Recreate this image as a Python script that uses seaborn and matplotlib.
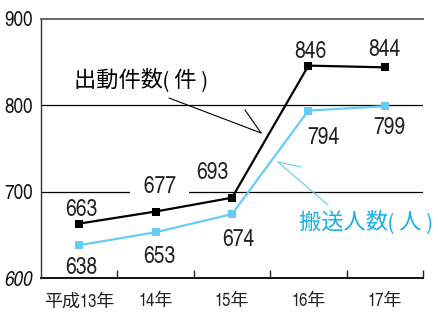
import matplotlib
matplotlib.use("Agg")
import matplotlib.pyplot as plt
from matplotlib.ticker import FixedLocator
import seaborn as sns

# data
years = ["平成13年", "14年", "15年", "16年", "17年"]
dispatches = [663, 677, 693, 846, 844]     # 出動件数(件)
transported = [638, 653, 674, 794, 799]    # 搬送人数(人)

# label offsets in pixels (dx, dy)
disp_offsets = [(2, 14), (4, 25), (-20, 25), (2, 14), (0, 17)]
trans_offsets = [(2, -23), (4, -25), (6, -26), (15, -27), (5, -22)]

BLACK = "#000000"
BLUE_LINE = "#66ccf5"
BLUE_TEXT = "#1aaee8"

sns.set_theme(style="white")
plt.rcParams["font.family"] = ["TeX Gyre Heros Cn", "Noto Sans CJK JP", "DejaVu Sans"]

fig = plt.figure(figsize=(4.39, 3.13), dpi=100)
ax = fig.add_axes([0.0934, 0.1118, 0.8702, 0.8275])

sns.lineplot(x=years, y=dispatches, sort=False, ax=ax, color=BLACK, lw=1.6,
             marker="s", markersize=5.5, markeredgewidth=0, zorder=3)
sns.lineplot(x=years, y=transported, sort=False, ax=ax, color=BLUE_LINE, lw=1.6,
             marker="s", markersize=5.5, markeredgewidth=0, zorder=3)

ax.set_xlim(-0.5, 4.5)
ax.set_ylim(600, 900)

# reference lines
for yv in (700, 800):
    ax.axhline(yv, color="black", lw=0.9, zorder=1)

# value labels
for i, (v, (dx, dy)) in enumerate(zip(dispatches, disp_offsets)):
    txt = f"  {v}  " if i == 1 else str(v)
    bbox = dict(boxstyle="square,pad=0.12", fc="white", ec="none") if i == 1 else None
    ax.annotate(txt, xy=(i, v), xytext=(dx, dy), textcoords="offset pixels",
                ha="center", va="center", fontsize=17, color="#222222",
                bbox=bbox, zorder=4)
for i, (v, (dx, dy)) in enumerate(zip(transported, trans_offsets)):
    ax.annotate(str(v), xy=(i, v), xytext=(dx, dy), textcoords="offset pixels",
                ha="center", va="center", fontsize=17, color="#222222", zorder=4)

# series names with leader lines
ax.text(0.81, 829, "出動件数( 件 )", ha="center", va="center", fontsize=16,
        color="black", zorder=4)
ax.annotate("", xy=(2.38, 768), xytext=(1.175, 808.5),
            arrowprops=dict(arrowstyle="-", lw=0.8, color="black", shrinkA=0, shrinkB=0))
ax.annotate("", xy=(2.38, 768), xytext=(2.17, 794.6),
            arrowprops=dict(arrowstyle="-", lw=0.8, color="black", shrinkA=0, shrinkB=0))

ax.text(3.75, 665, "搬送人数( 人 )", ha="center", va="center", fontsize=16,
        color=BLUE_TEXT, zorder=4)
ax.annotate("", xy=(2.60, 734.4), xytext=(3.257, 684.6),
            arrowprops=dict(arrowstyle="-", lw=0.8, color=BLUE_LINE, shrinkA=0, shrinkB=0))
ax.annotate("", xy=(2.60, 734.4), xytext=(2.90, 728.6),
            arrowprops=dict(arrowstyle="-", lw=0.8, color=BLUE_LINE, shrinkA=0, shrinkB=0))

# axes styling
ax.set_yticks([600, 700, 800, 900])
ax.set_yticklabels(["600", "700", "800", "900"], fontsize=15)
ax.get_yticklabels()[0].set_fontstyle("italic")
ax.tick_params(axis="y", length=0, pad=6, colors="#111111")
ax.tick_params(axis="x", which="major", length=0, pad=11, labelsize=13, colors="#222222")
ax.xaxis.set_minor_locator(FixedLocator([0.5, 1.5, 2.5, 3.5, 4.5]))
ax.tick_params(axis="x", which="minor", direction="in", length=6, width=1, color="#222222", bottom=True)
ax.set_xlabel("")
ax.set_ylabel("")

ax.spines["right"].set_visible(False)
ax.spines["top"].set_color("#666666")
ax.spines["top"].set_linewidth(1.4)
ax.spines["left"].set_color("#333333")
ax.spines["left"].set_linewidth(1.0)
ax.spines["bottom"].set_color("#111111")
ax.spines["bottom"].set_linewidth(1.4)

fig.savefig("out.png", dpi=100)
